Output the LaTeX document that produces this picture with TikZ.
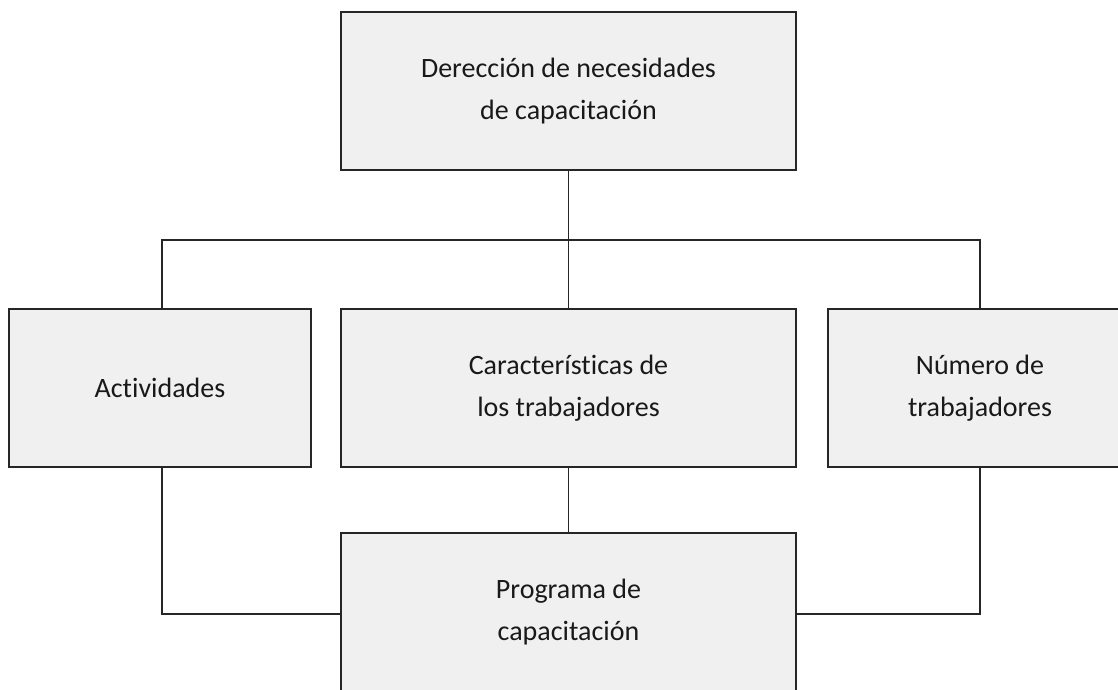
\documentclass[tikz,border=0pt]{standalone}
\usepackage{fontspec}
\setmainfont{Carlito}[Ligatures={NoCommon,TeX}]
\begin{document}
\begin{tikzpicture}[x=1pt,y=-1pt,
  boxstyle/.style={draw=black!85, line width=1.3pt, fill=boxgray, rectangle, inner sep=0pt,
    align=center, text=black!90, font=\fontsize{28}{42}\selectfont},
  linkstyle/.style={draw=black!85, line width=1.3pt}]
\definecolor{boxgray}{HTML}{F0F0F0}
\useasboundingbox (0,0) rectangle (1118,689);
\clip (0,0) rectangle (1118,689);
\fill[white] (0,0) rectangle (1118,689);
\node[boxstyle, minimum width=455pt, minimum height=158pt] (top) at (568.5,91) {Derección de necesidades\\de capacitación};
\node[boxstyle, minimum width=302pt, minimum height=158pt] (act) at (160,388) {Actividades};
\node[boxstyle, minimum width=455pt, minimum height=158pt] (car) at (568.5,388) {Características de\\los trabajadores};
\node[boxstyle, minimum width=304pt, minimum height=158pt] (num) at (980,388) {Número de\\trabajadores};
\node[boxstyle, minimum width=455pt, minimum height=158pt] (prog) at (568.5,612) {Programa de\\capacitación};
\coordinate (hl) at (162,240);
\coordinate (hr) at (980,240);
\draw[linkstyle] (top.south) -- (car.north);
\draw[linkstyle] (act.north -| hl) -- (hl) -- (hr) -- (num.north -| hr);
\draw[linkstyle] (car.south) -- (prog.north);
\draw[linkstyle] (act.south -| hl) |- (prog.west |- 0,614);
\draw[linkstyle] (num.south -| hr) |- (prog.east |- 0,614);
\end{tikzpicture}
\end{document}
